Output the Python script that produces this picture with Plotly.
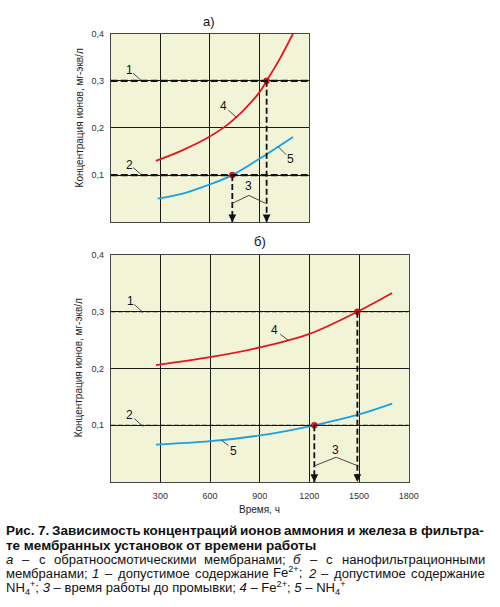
import glob
import struct
import plotly.graph_objects as go

# ---------------- data ----------------
# chart a) (time axis without labels, same scale as chart b)
a_fe_t = [273, 430, 576, 700, 800, 900, 945, 1022, 1105]
a_fe_v = [0.130, 0.152, 0.177, 0.205, 0.236, 0.275, 0.300, 0.345, 0.400]
a_nh_t = [285, 430, 576, 737, 903, 1105]
a_nh_v = [0.050, 0.060, 0.077, 0.100, 0.135, 0.181]
a_wash_t = [945, 737]          # time of reaching limits (Fe, NH4)
# chart b)
b_fe_t = [273, 600, 900, 1200, 1490, 1700]
b_fe_v = [0.206, 0.220, 0.237, 0.261, 0.300, 0.333]
b_nh_t = [273, 600, 900, 1230, 1500, 1700]
b_nh_v = [0.066, 0.072, 0.082, 0.100, 0.119, 0.138]
b_wash_t = [1490, 1230]
limits = [0.3, 0.1]            # 1 - Fe2+, 2 - NH4+
y_ticks = [0.1, 0.2, 0.3, 0.4]
y_tick_text = ["0,1", "0,2", "0,3", "0,4"]
x_ticks = [300, 600, 900, 1200, 1500, 1800]
x_tick_text = ["300", "600", "900", "1200", "1500", "1800"]

W, H = 500, 607
RED = "#E5161D"
BLUE = "#1D9FE3"
BG = "#F2F4D8"
FONT = "Liberation Sans"


def px(x):
    return x / W


def py(y):
    return 1 - y / H


# ---------- font metrics (for justified caption lines) ----------
def load_metrics(name):
    paths = []
    for root in ["/usr/share/fonts", "/usr/local/share/fonts", "/usr/share/fonts/truetype"]:
        paths += glob.glob(root + "/**/" + name, recursive=True)
    if not paths:
        return None
    try:
        data = open(paths[0], "rb").read()
        n = struct.unpack(">H", data[4:6])[0]
        tabs = {}
        for i in range(n):
            tag, _, off, ln = struct.unpack(">4sIII", data[12 + 16 * i:28 + 16 * i])
            tabs[tag.decode("latin-1")] = off
        upem = struct.unpack(">H", data[tabs["head"] + 18:tabs["head"] + 20])[0]
        nhm = struct.unpack(">H", data[tabs["hhea"] + 34:tabs["hhea"] + 36])[0]
        ho = tabs["hmtx"]
        adv = [struct.unpack(">H", data[ho + 4 * i:ho + 4 * i + 2])[0] for i in range(nhm)]
        co = tabs["cmap"]
        nsub = struct.unpack(">H", data[co + 2:co + 4])[0]
        sub = None
        for i in range(nsub):
            pid, eid, so = struct.unpack(">HHI", data[co + 4 + 8 * i:co + 12 + 8 * i])
            if pid == 3 and eid == 1:
                sub = co + so
        if sub is None or struct.unpack(">H", data[sub:sub + 2])[0] != 4:
            return None
        sx2 = struct.unpack(">H", data[sub + 6:sub + 8])[0]
        seg = sx2 // 2
        ends = struct.unpack(">%dH" % seg, data[sub + 14:sub + 14 + sx2])
        starts = struct.unpack(">%dH" % seg, data[sub + 16 + sx2:sub + 16 + 2 * sx2])
        deltas = struct.unpack(">%dh" % seg, data[sub + 16 + 2 * sx2:sub + 16 + 3 * sx2])
        rpos = sub + 16 + 3 * sx2
        roffs = struct.unpack(">%dH" % seg, data[rpos:rpos + sx2])

        def gid(ch):
            c = ord(ch)
            for i in range(seg):
                if starts[i] <= c <= ends[i]:
                    if roffs[i] == 0:
                        return (c + deltas[i]) & 0xFFFF
                    p = rpos + 2 * i + roffs[i] + 2 * (c - starts[i])
                    g = struct.unpack(">H", data[p:p + 2])[0]
                    return (g + deltas[i]) & 0xFFFF if g else 0
            return 0

        def width(s):
            return sum(adv[min(gid(ch), nhm - 1)] for ch in s) / upem
        return width
    except Exception:
        return None


def fallback(factor):
    return lambda s: factor * len(s)


MET = {
    "r": load_metrics("LiberationSans-Regular.ttf") or fallback(0.54),
    "b": load_metrics("LiberationSans-Bold.ttf") or fallback(0.58),
    "i": load_metrics("LiberationSans-Italic.ttf") or fallback(0.54),
    "bi": load_metrics("LiberationSans-BoldItalic.ttf") or fallback(0.58),
}


def run_html(text, st):
    if st == "i":
        return "<i>%s</i>" % text
    if st == "sup":
        return "<sup>%s</sup>" % text
    if st == "sub":
        return "<sub>%s</sub>" % text
    return text


def word_width(runs, size, bold):
    w = 0
    for text, st in runs:
        if st in ("sup", "sub"):
            w += MET["b" if bold else "r"](text) * size * 0.7
        elif st == "i":
            w += MET["bi" if bold else "i"](text) * size
        else:
            w += MET["b" if bold else "r"](text) * size
    return w


def word_html(runs, bold):
    h = "".join(run_html(t, s) for t, s in runs)
    return "<b>%s</b>" % h if bold else h


def W_(s):
    return [(s, "r")]


def I_(s):
    return [(s, "i")]


cap_lines = [
    dict(bold=True, just=True, y=530,
         words=[W_(w) for w in "Рис. 7. Зависимость концентраций ионов аммония и железа в фильтра-".split()]),
    dict(bold=True, just=False, y=544.5,
         words=[W_(w) for w in "те мембранных установок от времени работы".split()]),
    dict(bold=False, just=True, y=559,
         words=[I_("а"), W_("–"), W_("с"), W_("обратноосмотическими"), W_("мембранами;"),
                I_("б"), W_("–"), W_("с"), W_("нанофильтрационными")]),
    dict(bold=False, just=True, y=573.5,
         words=[W_("мембранами;"), I_("1"), W_("–"), W_("допустимое"), W_("содержание"),
                [("Fe", "r"), ("2+", "sup"), (";", "r")], I_("2"), W_("–"),
                W_("допустимое"), W_("содержание")]),
    dict(bold=False, just=False, y=588,
         words=[[("NH", "r"), ("4", "sub"), ("+", "sup"), (";", "r")], I_("3"), W_("–"),
                W_("время"), W_("работы"), W_("до"), W_("промывки;"), I_("4"), W_("–"),
                [("Fe", "r"), ("2+", "sup"), (";", "r")], I_("5"), W_("–"),
                [("NH", "r"), ("4", "sub"), ("+", "sup")]]),
]
CAP_L, CAP_R = 6, 493


def line_width(words, size, bold):
    sp = MET["b" if bold else "r"](" ") * size
    return sum(word_width(w, size, bold) for w in words) + sp * (len(words) - 1)


# font sizes chosen so that the free lines end where the reference's do
s_bold = 13 * (318 - CAP_L) / line_width(cap_lines[1]["words"], 13, True)
s_reg = 13 * (346 - CAP_L) / line_width(cap_lines[4]["words"], 13, False)
s_bold = min(max(s_bold, 12), 14.5)
s_reg = min(max(s_reg, 12), 14.5)

fig = go.Figure()

for t, v, c, xa, ya in [
    (a_fe_t, a_fe_v, RED, "x", "y"),
    (a_nh_t, a_nh_v, BLUE, "x", "y"),
    (b_fe_t, b_fe_v, RED, "x2", "y2"),
    (b_nh_t, b_nh_v, BLUE, "x2", "y2"),
]:
    fig.add_trace(go.Scatter(x=t, y=v, mode="lines", xaxis=xa, yaxis=ya,
                             line=dict(color=c, width=1.8, shape="spline", smoothing=1.0),
                             hoverinfo="skip", showlegend=False))

shapes = []
annotations = []

# limit lines, drop lines, arrows, dots
for wash, xa, ya, xmax, hw, hdash in [
    (a_wash_t, "x", "y", 1200, 2.4, "7px,3px"),
    (b_wash_t, "x2", "y2", 1800, 1.2, "5px,2px"),
]:
    for lim in limits:
        shapes.append(dict(type="line", xref=xa, yref=ya, x0=0, x1=xmax, y0=lim, y1=lim,
                           line=dict(color="#111", width=hw, dash=hdash), layer="above"))
    for t, lim in zip(wash, limits):
        shapes.append(dict(type="line", xref=xa, yref=ya, x0=t, x1=t, y0=lim, y1=0,
                           line=dict(color="#111", width=1.8, dash="6px,3px"), layer="above"))
        annotations.append(dict(x=t, y=0, xref=xa, yref=ya, text="", showarrow=True,
                                ax=0, ay=-7, arrowhead=2, arrowsize=1.1, arrowwidth=1.4,
                                arrowcolor="#111", standoff=0))
    fig.add_trace(go.Scatter(x=wash, y=limits, mode="markers", xaxis=xa, yaxis=ya,
                             marker=dict(color=RED, size=6, line=dict(color="#B00", width=0.5)),
                             hoverinfo="skip", showlegend=False, cliponaxis=False))

# label numbers with leader lines (pixel layout)
labels = [
    ("1", 132, 66, [(136, 69), (144, 76)]),
    ("2", 132, 161, [(136, 164), (144, 171)]),
    ("4", 228, 102, [(233, 106), (242, 114)]),
    ("5", 296, 155, [(292, 151), (284, 143)]),
    ("3", 254, 183, [(237, 200), (254, 192), (271, 200)]),
    ("1", 133, 298, [(137, 302), (146, 310)]),
    ("2", 132, 413, [(137, 417), (146, 425)]),
    ("4", 280, 328, [(286, 332), (294, 338)]),
    ("5", 238, 450, [(233, 444), (226, 439)]),
    ("3", 342, 449, [(320, 465), (343, 456), (366, 465)]),
]


def note(txt, x, y, size, xanchor="center", angle=0, color="#111"):
    annotations.append(dict(x=px(x), y=py(y), xref="paper", yref="paper", text=txt,
                            showarrow=False, xanchor=xanchor, yanchor="middle",
                            textangle=angle, borderpad=0, borderwidth=0,
                            font=dict(family=FONT, size=size, color=color)))


for txt, x, y, pts in labels:
    note(txt, x, y, 12)
    for (x0, y0), (x1, y1) in zip(pts[:-1], pts[1:]):
        shapes.append(dict(type="line", xref="paper", yref="paper",
                           x0=px(x0), y0=py(y0), x1=px(x1), y1=py(y1),
                           line=dict(color="#333", width=0.9), layer="above"))

# titles
note("а)", 213, 17, 13)
note("б)", 265, 238, 13)
for y in [114, 366]:
    note("Концентрация ионов, мг-экв/л", 81, y, 10, angle=-90, color="#222")
note("Время, ч", 265, 509, 10, color="#222")

# caption
for ln in cap_lines:
    bold = ln["bold"]
    size = s_bold if bold else s_reg
    words = ln["words"]
    if not ln["just"]:
        html = " ".join(word_html(w, False) for w in words)
        note("<b>%s</b>" % html if bold else html, CAP_L, ln["y"], size, xanchor="left")
        continue
    # shrink if the natural line does not fit
    while line_width(words, size, bold) > (CAP_R - CAP_L) and size > 10:
        size -= 0.1
    widths = [word_width(w, size, bold) for w in words]
    g = (CAP_R - CAP_L - sum(widths)) / (len(words) - 1)
    x = CAP_L
    for w, wd in zip(words, widths):
        has_sup = any(st == "sup" for _, st in w)
        # a superscript makes the box taller upwards: lift so baselines stay aligned
        yy = ln["y"] - (0.165 * size if has_sup else 0)
        note(word_html(w, bold), x, yy, size, xanchor="left")
        x += wd + g

axis_common = dict(showgrid=True, gridcolor="#1a1a1a", gridwidth=1, zeroline=False,
                   showline=True, mirror=True, linecolor="#444", linewidth=1,
                   ticks="", tickfont=dict(family=FONT, size=9, color="#333"))

fig.update_layout(
    width=W, height=H, margin=dict(l=0, r=0, t=0, b=0),
    paper_bgcolor="white", plot_bgcolor=BG, showlegend=False,
    xaxis=dict(domain=[px(113), px(315)], range=[0, 1200], tickvals=x_ticks[:3],
               showticklabels=False, anchor="y", **axis_common),
    yaxis=dict(domain=[py(219), py(29)], range=[0, 0.4], tickvals=y_ticks,
               ticktext=y_tick_text, anchor="x", ticklabelstandoff=4, **axis_common),
    xaxis2=dict(domain=[px(113), px(417)], range=[0, 1800], tickvals=x_ticks,
                ticktext=x_tick_text, anchor="y2", ticklabelstandoff=5, **axis_common),
    yaxis2=dict(domain=[py(481), py(252)], range=[0, 0.4], tickvals=y_ticks,
                ticktext=y_tick_text, anchor="x2", ticklabelstandoff=4, **axis_common),
    shapes=shapes, annotations=annotations,
)

fig.write_html("out.html", config={"displayModeBar": False},
               post_script="document.body.style.margin='0';")
